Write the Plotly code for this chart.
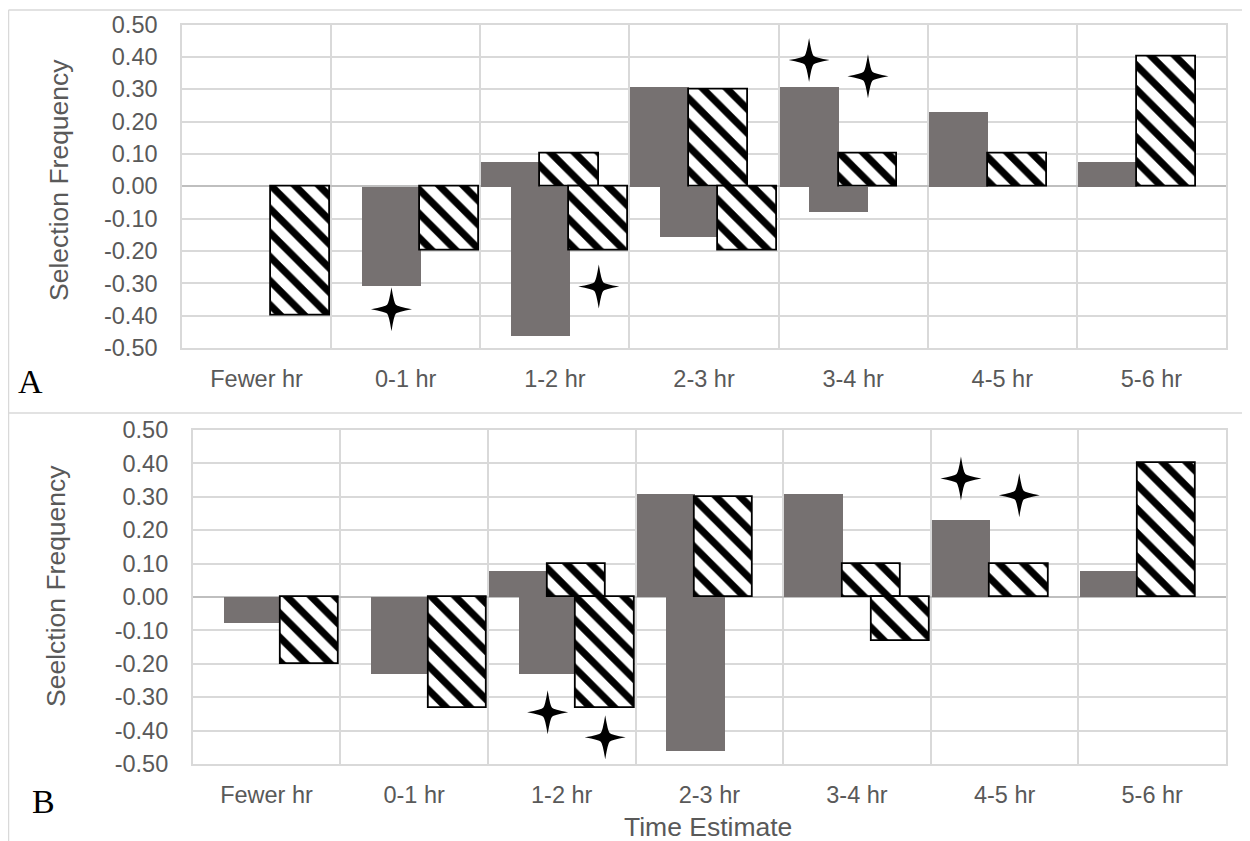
import plotly.graph_objects as go

categories = ["Fewer hr", "0-1 hr", "1-2 hr", "2-3 hr", "3-4 hr", "4-5 hr", "5-6 hr"]

# Panel A
a_grey_pos = [0, 0, 0.077, 0.308, 0.308, 0.231, 0.077]
a_hatch_pos = [0, 0, 0.10, 0.30, 0.10, 0.10, 0.40]
a_grey_neg = [0, -0.308, -0.462, -0.154, -0.077, 0, 0]
a_hatch_neg = [-0.40, -0.20, -0.20, -0.20, 0, 0, 0]
# stars: category, series index (0=grey+, 1=hatch+, 2=grey-, 3=hatch-), y
a_star_cat = ["0-1 hr", "1-2 hr", "3-4 hr", "3-4 hr"]
a_star_series = [2, 3, 0, 1]
a_star_y = [-0.38, -0.31, 0.39, 0.34]

# Panel B
b_grey_pos = [0, 0, 0.077, 0.308, 0.308, 0.231, 0.077]
b_hatch_pos = [0, 0, 0.10, 0.30, 0.10, 0.10, 0.40]
b_grey_neg = [-0.077, -0.231, -0.231, -0.462, 0, 0, 0]
b_hatch_neg = [-0.20, -0.333, -0.333, 0, -0.133, 0, 0]
b_star_cat = ["1-2 hr", "1-2 hr", "4-5 hr", "4-5 hr"]
b_star_series = [2, 3, 0, 1]
b_star_y = [-0.345, -0.42, 0.355, 0.305]

y_ticks = [-0.5, -0.4, -0.3, -0.2, -0.1, 0.0, 0.1, 0.2, 0.3, 0.4, 0.5]

GREY = "#767171"
GRID = "#d9d9d9"
TXT = "#595959"
FONT = "Arial, Liberation Sans, sans-serif"
WIDTH = 0.395
OFFSETS = [-0.493, -0.098, -0.293, 0.097]
# four-pointed star outline in pixels (style only)
STAR_PATH = ("M 0,-22 Q 2.6,-6 4.4,-4.4 Q 6,-2.6 20.5,0 Q 6,2.6 4.4,4.4 Q 2.6,6 0,22 "
             "Q -2.6,6 -4.4,4.4 Q -6,2.6 -20.5,0 Q -6,-2.6 -4.4,-4.4 Q -2.6,-6 0,-22 Z")

fig = go.Figure()
shapes = []


def nz(vals):
    return [v if v != 0 else None for v in vals]


def add_panel(series, star_cat, star_series, star_y, xa, ya):
    xs = list(range(len(categories)))
    for i, vals in enumerate(series):
        hatched = i in (1, 3)
        if hatched:
            marker = dict(color="white", line=dict(color="black", width=1.8),
                          pattern=dict(shape="\\", fgcolor="black", bgcolor="white",
                                       fgopacity=1, size=17, solidity=0.42))
        else:
            marker = dict(color=GREY, line=dict(width=0))
        fig.add_trace(go.Bar(x=xs, y=nz(vals), offset=OFFSETS[i], width=WIDTH,
                             marker=marker, xaxis=xa, yaxis=ya, showlegend=False))
    for c, s, yv in zip(star_cat, star_series, star_y):
        sx = categories.index(c) + OFFSETS[s] + WIDTH / 2
        shapes.append(dict(type="path", xref=xa, yref=ya,
                           xsizemode="pixel", ysizemode="pixel",
                           xanchor=sx, yanchor=yv, path=STAR_PATH,
                           fillcolor="black", line=dict(width=0), layer="above"))


add_panel([a_grey_pos, a_hatch_pos, a_grey_neg, a_hatch_neg], a_star_cat, a_star_series, a_star_y, "x", "y")
add_panel([b_grey_pos, b_hatch_pos, b_grey_neg, b_hatch_neg], b_star_cat, b_star_series, b_star_y, "x2", "y2")

# page has an 8px body margin, so the figure is 8px smaller and shifted
OFF = 8
W, H = 1250 - OFF, 841 - OFF


def px(x):
    return (x - OFF) / W


def py(y):
    return 1 - (y - OFF) / H


xaxis_common = dict(
    range=[-0.5, len(categories) - 0.5], automargin=False,
    tickmode="array", tickvals=list(range(len(categories))), ticktext=categories,
    showgrid=False, zeroline=False,
    showline=True, mirror=True, linecolor=GRID, linewidth=1.5,
    ticks="", ticklabelstandoff=9,
    tickfont=dict(family=FONT, size=23.5, color=TXT),
    minor=dict(tickmode="array", tickvals=[i + 0.5 for i in range(len(categories) - 1)],
               showgrid=True, gridcolor=GRID, gridwidth=1.5, ticks=""),
)
yaxis_common = dict(
    range=[-0.5, 0.5], tickmode="array", tickvals=y_ticks, automargin=False,
    ticktext=[f"{v:.2f}" for v in y_ticks],
    showgrid=True, gridcolor=GRID, gridwidth=1.5,
    zeroline=True, zerolinecolor="#bfbfbf", zerolinewidth=1.5,
    showline=True, mirror=True, linecolor=GRID, linewidth=1.5,
    ticks="", ticklabelstandoff=18,
    tickfont=dict(family=FONT, size=23.5, color=TXT),
)

fig.update_layout(
    width=W, height=H, margin=dict(l=0, r=0, t=0, b=0, autoexpand=False),
    paper_bgcolor="white", plot_bgcolor="white",
    barmode="overlay", bargap=0,
    xaxis=dict(domain=[px(182), px(1226)], anchor="y", **xaxis_common),
    yaxis=dict(domain=[py(348), py(24.5)], anchor="x", **yaxis_common),
    xaxis2=dict(domain=[px(192.7), px(1226)], anchor="y2", **xaxis_common),
    yaxis2=dict(domain=[py(764), py(430)], anchor="x2", **yaxis_common),
)

annotations = [
    dict(text="Selection Frequency", x=px(59), y=py(180), textangle=-90,
         font=dict(family=FONT, size=26.5, color=TXT)),
    dict(text="Seelction Frequency", x=px(56), y=py(586), textangle=-90,
         font=dict(family=FONT, size=26.5, color=TXT)),
    dict(text="Time Estimate", x=px(708), y=py(827),
         font=dict(family=FONT, size=26.5, color=TXT)),
    dict(text="A", x=px(30), y=py(381),
         font=dict(family="Times New Roman, Liberation Serif, serif", size=34, color="black")),
    dict(text="B", x=px(43), y=py(801),
         font=dict(family="Times New Roman, Liberation Serif, serif", size=34, color="black")),
]
for a in annotations:
    a.update(xref="paper", yref="paper", showarrow=False, xanchor="center", yanchor="middle")

line = dict(color=GRID, width=1.5)
shapes += [
    dict(type="line", xref="paper", yref="paper", x0=px(8.5), x1=1, y0=py(10), y1=py(10), line=line),
    dict(type="line", xref="paper", yref="paper", x0=px(8.5), x1=1, y0=py(413), y1=py(413), line=line),
    dict(type="line", xref="paper", yref="paper", x0=px(8.5), x1=px(8.5), y0=py(10), y1=0, line=line),
]
fig.update_layout(annotations=annotations, shapes=shapes)

fig.write_html("out.html")
